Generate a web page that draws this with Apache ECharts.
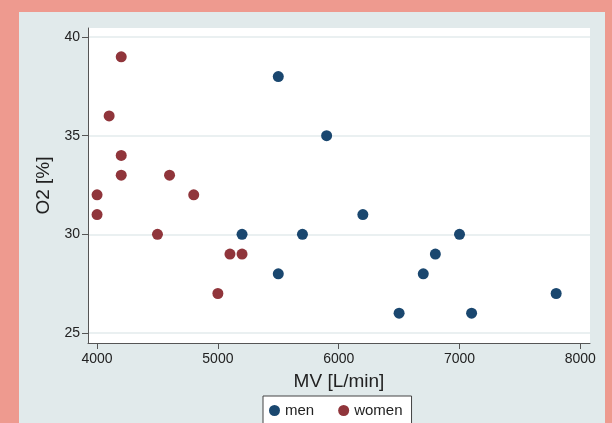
<!DOCTYPE html>
<html>
<head>
<meta charset="utf-8">
<script src="https://cdn.jsdelivr.net/npm/echarts@6/dist/echarts.min.js"></script>
<style>html,body{margin:0;padding:0;background:#EE9A8F;}#c{width:612px;height:423px;}</style>
</head>
<body>
<div id="c"></div>
<script>
var xTicks = [4000, 5000, 6000, 7000, 8000];
var yTicks = [25, 30, 35, 40];
var menMV = [5500, 5900, 6200, 5200, 5700, 7000, 5500, 6800, 6700, 6500, 7100, 7800];
var menO2 = [38, 35, 31, 30, 30, 30, 28, 29, 28, 26, 26, 27];
var womenMV = [4200, 4100, 4200, 4200, 4600, 4000, 4800, 4000, 4500, 5100, 5200, 5000];
var womenO2 = [39, 36, 34, 33, 33, 32, 32, 31, 30, 29, 29, 27];

function pairs(xs, ys) { return xs.map(function (x, i) { return [x, ys[i]]; }); }

var chart = echarts.init(document.getElementById('c'));
var font = '"Liberation Sans", Arial, sans-serif';
chart.setOption({
  backgroundColor: '#EE9A8F',
  animation: false,
  graphic: [{
    type: 'rect', z: -10, silent: true,
    shape: { x: 19, y: 12, width: 586, height: 420 },
    style: { fill: '#E1EAEB' }
  }],
  grid: { left: 88, right: 22, top: 28, bottom: 80, show: true, backgroundColor: '#FFFFFF', borderWidth: 0 },
  xAxis: {
    type: 'value', min: 3925, max: 8080,
    name: 'MV [L/min]', nameLocation: 'middle', nameGap: 29,
    nameTextStyle: { fontFamily: font, fontSize: 19, color: '#222' },
    axisLine: { show: true, lineStyle: { color: '#555', width: 1 } },
    axisTick: { show: true, length: 6, customValues: xTicks, lineStyle: { color: '#555' } },
    axisLabel: { customValues: xTicks, formatter: function (v) { return String(v); }, fontFamily: font, fontSize: 14, color: '#222', margin: 9 },
    splitLine: { show: false }
  },
  yAxis: {
    type: 'value', min: 24.49, max: 40.46,
    name: 'O2 [%]', nameLocation: 'middle', nameGap: 34,
    nameTextStyle: { fontFamily: font, fontSize: 19, color: '#222' },
    axisLine: { show: true, lineStyle: { color: '#555', width: 1 } },
    axisTick: { show: true, length: 6, customValues: yTicks, lineStyle: { color: '#555' } },
    axisLabel: { customValues: yTicks, fontFamily: font, fontSize: 14, color: '#222', margin: 8 },
    splitLine: { show: true, lineStyle: { color: '#E3EBED', width: 1.5 } }
  },
  legend: {
    left: 263, top: 396, width: 150,
    data: ['men', 'women'],
    icon: 'circle', itemWidth: 11, itemHeight: 11, itemGap: 24,
    backgroundColor: '#FFFFFF', borderColor: '#444', borderWidth: 1,
    padding: [7, 9, 10, 6],
    textStyle: { fontFamily: font, fontSize: 15, color: '#222' }
  },
  series: [
    { name: 'men', type: 'scatter', symbolSize: 11, itemStyle: { color: '#1A476F', opacity: 1 }, data: pairs(menMV, menO2) },
    { name: 'women', type: 'scatter', symbolSize: 11, itemStyle: { color: '#90353B', opacity: 1 }, data: pairs(womenMV, womenO2) }
  ]
});
</script>
</body>
</html>
